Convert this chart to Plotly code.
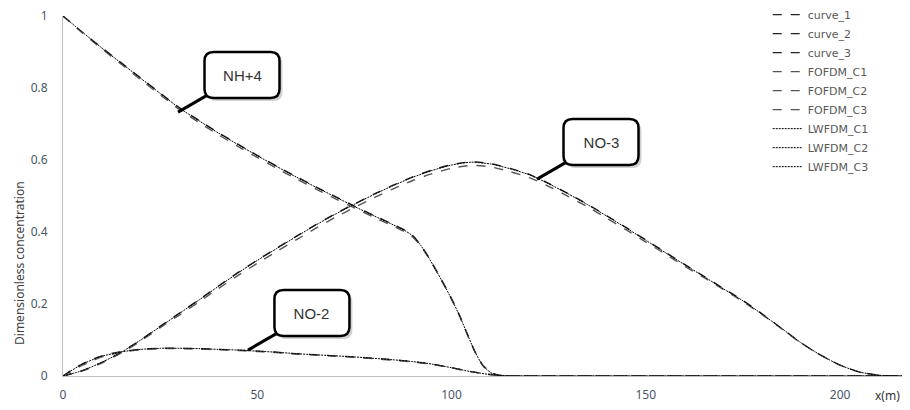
import plotly.graph_objects as go

# ---------------- data ----------------
x_nh4 = [0, 5, 10, 15, 20, 25, 30, 35, 40, 45, 50, 55, 60, 65, 70, 75, 80, 85, 88,
         90, 92, 94, 96, 98, 100, 102, 104, 106, 108, 110, 112, 115, 120, 218]
curve_1 = [1.0, 0.955, 0.912, 0.870, 0.828, 0.786, 0.745, 0.710, 0.676, 0.644, 0.613,
           0.583, 0.554, 0.526, 0.499, 0.472, 0.446, 0.421, 0.405, 0.390, 0.365, 0.332,
           0.295, 0.256, 0.215, 0.170, 0.118, 0.068, 0.030, 0.010, 0.002, 0.0, 0.0, 0.0]
fofdm_c1 = [1.0, 0.953, 0.909, 0.866, 0.823, 0.781, 0.740, 0.704, 0.670, 0.638, 0.607,
            0.577, 0.548, 0.520, 0.493, 0.467, 0.441, 0.416, 0.400, 0.386, 0.362, 0.330,
            0.293, 0.254, 0.213, 0.168, 0.117, 0.068, 0.031, 0.011, 0.003, 0.0, 0.0, 0.0]
lwfdm_c1 = [1.0, 0.955, 0.911, 0.869, 0.827, 0.785, 0.744, 0.709, 0.675, 0.643, 0.612,
            0.582, 0.553, 0.525, 0.498, 0.471, 0.445, 0.420, 0.404, 0.389, 0.364, 0.331,
            0.294, 0.255, 0.214, 0.169, 0.118, 0.068, 0.030, 0.010, 0.002, 0.0, 0.0, 0.0]

x_no2 = [0, 2, 5, 8, 10, 15, 20, 25, 30, 35, 40, 45, 50, 55, 60, 65, 70, 75, 80, 85,
         90, 95, 100, 105, 110, 115, 120, 218]
curve_2 = [0, 0.015, 0.034, 0.048, 0.056, 0.068, 0.074, 0.077, 0.077, 0.076, 0.074,
           0.072, 0.069, 0.066, 0.062, 0.059, 0.056, 0.053, 0.049, 0.045, 0.040, 0.033,
           0.023, 0.012, 0.004, 0.0, 0.0, 0.0]
fofdm_c2 = [0, 0.012, 0.030, 0.044, 0.053, 0.066, 0.073, 0.076, 0.076, 0.075, 0.073,
            0.071, 0.068, 0.065, 0.061, 0.058, 0.055, 0.052, 0.048, 0.044, 0.039, 0.032,
            0.023, 0.012, 0.004, 0.0, 0.0, 0.0]
lwfdm_c2 = [0, 0.014, 0.033, 0.047, 0.055, 0.067, 0.074, 0.077, 0.077, 0.076, 0.074,
            0.072, 0.069, 0.066, 0.062, 0.059, 0.056, 0.053, 0.049, 0.045, 0.040, 0.033,
            0.023, 0.012, 0.004, 0.0, 0.0, 0.0]

x_no3 = [0, 5, 10, 15, 20, 25, 30, 35, 40, 45, 50, 55, 60, 65, 70, 75, 80, 85, 90, 95,
         100, 105, 110, 115, 120, 125, 130, 135, 140, 145, 150, 155, 160, 165, 170, 175,
         180, 185, 190, 195, 200, 205, 210, 215, 218]
curve_3 = [0, 0.015, 0.038, 0.066, 0.100, 0.138, 0.175, 0.212, 0.250, 0.287, 0.322,
           0.355, 0.388, 0.420, 0.450, 0.478, 0.505, 0.530, 0.553, 0.572, 0.587, 0.595,
           0.590, 0.577, 0.560, 0.535, 0.507, 0.477, 0.445, 0.412, 0.378, 0.344, 0.310,
           0.277, 0.243, 0.210, 0.172, 0.132, 0.092, 0.058, 0.030, 0.011, 0.002, 0.0, 0.0]
fofdm_c3 = [0, 0.014, 0.036, 0.064, 0.097, 0.134, 0.170, 0.206, 0.243, 0.279, 0.313,
            0.346, 0.378, 0.410, 0.440, 0.468, 0.495, 0.520, 0.543, 0.562, 0.577, 0.585,
            0.581, 0.568, 0.551, 0.527, 0.499, 0.470, 0.438, 0.406, 0.372, 0.339, 0.305,
            0.273, 0.240, 0.207, 0.170, 0.131, 0.091, 0.058, 0.030, 0.011, 0.002, 0.0, 0.0]
lwfdm_c3 = [0, 0.015, 0.038, 0.066, 0.100, 0.137, 0.174, 0.211, 0.249, 0.286, 0.321,
            0.354, 0.387, 0.419, 0.449, 0.477, 0.504, 0.529, 0.552, 0.571, 0.586, 0.594,
            0.589, 0.576, 0.559, 0.534, 0.506, 0.476, 0.444, 0.411, 0.377, 0.343, 0.309,
            0.276, 0.242, 0.209, 0.171, 0.132, 0.092, 0.058, 0.030, 0.011, 0.002, 0.0, 0.0]

x_ticks = [0, 50, 100, 150, 200]
y_ticks = [0, 0.2, 0.4, 0.6, 0.8, 1]
y_tick_labels = ["0", "0.2", "0.4", "0.6", "0.8", "1"]

callouts = [("NH+4", 29.6, 0.733), ("NO-3", 122, 0.547), ("NO-2", 47.6, 0.072)]

# ---------------- figure ----------------
fig = go.Figure()

series = [
    ("curve_1", x_nh4, curve_1, "dash", "#222222", 1.4),
    ("curve_2", x_no2, curve_2, "dash", "#222222", 1.4),
    ("curve_3", x_no3, curve_3, "dash", "#222222", 1.4),
    ("FOFDM_C1", x_nh4, fofdm_c1, "dash", "#555555", 1.4),
    ("FOFDM_C2", x_no2, fofdm_c2, "dash", "#555555", 1.4),
    ("FOFDM_C3", x_no3, fofdm_c3, "dash", "#555555", 1.4),
    ("LWFDM_C1", x_nh4, lwfdm_c1, "2px,1px", "#000000", 1.0),
    ("LWFDM_C2", x_no2, lwfdm_c2, "2px,1px", "#000000", 1.0),
    ("LWFDM_C3", x_no3, lwfdm_c3, "2px,1px", "#000000", 1.0),
]
for name, xs, ys, dash, color, w in series:
    fig.add_trace(go.Scatter(
        x=xs, y=ys, name=name, mode="lines",
        line=dict(color=color, width=w, dash=dash, shape="spline", smoothing=0.6),
    ))


def rounded_box(cx, cy, w, h, r):
    """Rounded rectangle path (pixel offsets, y up) centred on (cx, cy)."""
    x0, x1 = cx - w / 2, cx + w / 2
    y0, y1 = cy - h / 2, cy + h / 2
    return (f"M {x0 + r},{y0} L {x1 - r},{y0} Q {x1},{y0} {x1},{y0 + r} "
            f"L {x1},{y1 - r} Q {x1},{y1} {x1 - r},{y1} L {x0 + r},{y1} "
            f"Q {x0},{y1} {x0},{y1 - r} L {x0},{y0 + r} Q {x0},{y0} {x0 + r},{y0} Z")


BOX_DX, BOX_DY, BOX_W, BOX_H = 64, 37, 75, 46
for text, cx, cy in callouts:
    # shadow
    fig.add_shape(type="path", xref="x", yref="y", xsizemode="pixel", ysizemode="pixel",
                  xanchor=cx, yanchor=cy, layer="above",
                  path=rounded_box(BOX_DX + 3, BOX_DY - 3, BOX_W, BOX_H, 9),
                  fillcolor="rgba(0,0,0,0.18)", line=dict(width=0))
    # box
    fig.add_shape(type="path", xref="x", yref="y", xsizemode="pixel", ysizemode="pixel",
                  xanchor=cx, yanchor=cy, layer="above",
                  path=rounded_box(BOX_DX, BOX_DY, BOX_W, BOX_H, 9),
                  fillcolor="#ffffff", line=dict(color="#000000", width=2.5))
    fig.add_annotation(x=cx, y=cy, xref="x", yref="y", text=text, showarrow=True,
                       ax=BOX_DX, ay=-BOX_DY, arrowhead=0, arrowwidth=3,
                       arrowcolor="#000000",
                       width=BOX_W - 4, height=BOX_H - 4, borderpad=0, borderwidth=0,
                       bgcolor="rgba(0,0,0,0)",
                       font=dict(family="Liberation Sans", size=15, color="#333333"))

L, T, R = 55, 8, 8
PW, PH = 910 - L - R, 360

fig.add_annotation(x=(879 - L) / PW, y=-0.025, xref="paper", yref="paper", text="x(m)",
                   xanchor="center", yanchor="top", showarrow=False,
                   font=dict(family="Noto Sans", size=12, color="#333333"))

fig.add_annotation(text="Dimensionless concentration", textangle=-90,
                   xref="paper", yref="paper", x=(12 - L) / PW, y=0.314,
                   xanchor="center", yanchor="middle", showarrow=False,
                   font=dict(family="Noto Sans", size=12, color="#404040"))

fig.update_layout(
    width=910, height=410,
    margin=dict(l=L, r=R, t=T, b=410 - T - PH, autoexpand=False),
    paper_bgcolor="white", plot_bgcolor="white",
    font=dict(family="Noto Sans", size=12, color="#4a5568"),
    showlegend=True,
    legend=dict(x=0.832, y=1.044, xanchor="left", yanchor="top",
                bgcolor="rgba(0,0,0,0)",
                font=dict(family="DejaVu Sans", size=11, color="#595959"),
                tracegroupgap=0),
    xaxis=dict(range=[0, 218], tickmode="array", tickvals=x_ticks,
               showgrid=False, zeroline=False, showline=True, linecolor="#bfbfbf",
               linewidth=1, ticks="", ticklabelstandoff=8),
    yaxis=dict(range=[0, 1], tickmode="array", tickvals=y_ticks, ticktext=y_tick_labels,
               showgrid=False, zeroline=False, showline=True, linecolor="#bfbfbf",
               linewidth=1, ticks="", ticklabelstandoff=12, ticklabeloverflow="allow"),
)

fig.write_html("out.html")
